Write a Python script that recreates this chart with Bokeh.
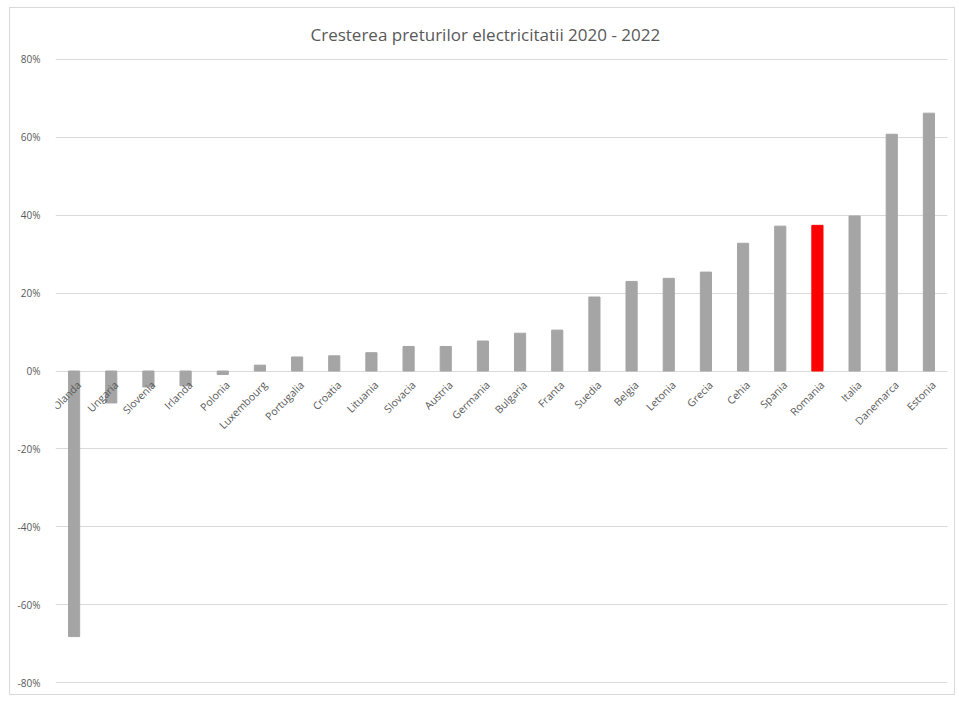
import math
from bokeh.plotting import figure
from bokeh.models import ColumnDataSource, FixedTicker, PrintfTickFormatter, Range1d
from bokeh.core.properties import value
from bokeh.embed import file_html
from bokeh.resources import INLINE

countries = ["Olanda", "Ungaria", "Slovenia", "Irlanda", "Polonia", "Luxembourg",
             "Portugalia", "Croatia", "Lituania", "Slovacia", "Austria", "Germania",
             "Bulgaria", "Franta", "Suedia", "Belgia", "Letonia", "Grecia", "Cehia",
             "Spania", "Romania", "Italia", "Danemarca", "Estonia"]
changes = [-68.2, -8.2, -4.1, -3.8, -0.9, 1.5, 3.6, 3.9, 4.7, 6.3, 6.3, 7.7,
           9.7, 10.5, 19.0, 23.0, 23.8, 25.4, 32.8, 37.2, 37.4, 39.8, 60.8, 66.2]
y_ticks = [-80, -60, -40, -20, 0, 20, 40, 60, 80]
highlight = "Romania"
title_text = "Cresterea preturilor electricitatii 2020 - 2022"

FONT = "Open Sans"
TXT = "#595959"
GRID = "#d9d9d9"

colors = ["#ff0000" if c == highlight else "#a5a5a5" for c in countries]
src = ColumnDataSource(dict(x=countries, y=changes, color=colors,
                            zero=[0] * len(countries)))

p = figure(width=946, height=688, x_range=countries, y_range=Range1d(-80.5, 80.5),
           output_backend="svg", toolbar_location=None, x_axis_location=None,
           title=title_text,
           styles={"border": "1px solid #d9d9d9", "margin-left": "9px",
                   "margin-top": "7px"})
p.min_border_left = 45
p.min_border_right = 9
p.min_border_top = 49
p.min_border_bottom = 12
p.outline_line_color = None

p.title.align = "left"
p.title.offset = 255
p.title.standoff = 23
p.title.text_font = FONT
p.title.text_font_size = "17px"
p.title.text_font_style = "normal"
p.title.text_color = TXT

p.vbar(x="x", top="y", width=0.3, color="color", source=src)

p.text(x="x", y="zero", text="x", source=src, angle=math.pi / 4,
       text_align="right", text_baseline="middle", x_offset=5, y_offset=12,
       text_font=value(FONT), text_font_size="10.5px", text_color=TXT)

p.yaxis.ticker = FixedTicker(ticks=y_ticks)
p.yaxis.formatter = PrintfTickFormatter(format="%d%%")
p.yaxis.axis_line_color = None
p.yaxis.major_tick_line_color = None
p.yaxis.minor_tick_line_color = None
p.yaxis.major_label_standoff = 9
p.yaxis.major_label_text_font = FONT
p.yaxis.major_label_text_font_size = "10px"
p.yaxis.major_label_text_color = TXT

p.xgrid.grid_line_color = None
p.ygrid.grid_line_color = GRID
p.ygrid.ticker = FixedTicker(ticks=y_ticks)

open("out.html", "w").write(file_html(p, INLINE))
